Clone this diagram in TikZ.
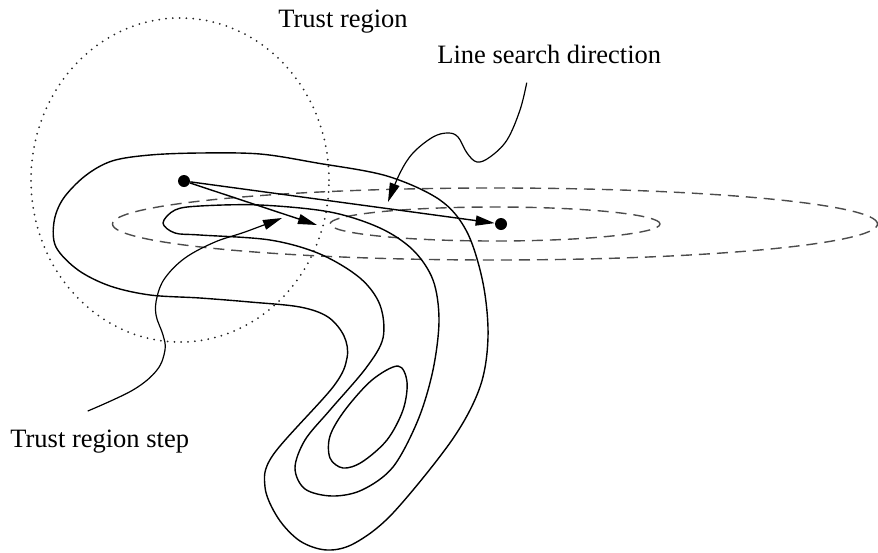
\documentclass[tikz,border=0pt]{standalone}
\usepackage{fontspec}
\setmainfont{Liberation Serif}
\usetikzlibrary{arrows.meta,positioning}

\begin{document}
\begin{tikzpicture}[x=0.5pt,y=-0.5pt,
        contour/.style={line width=0.7pt},
        levelset/.style={line width=0.7pt, black!70, dash pattern=on 5.5pt off 3.5pt},
        trustline/.style={line width=1pt, black!85, line cap=round, dash pattern=on 0pt off 3.4pt},
        dot/.style={circle, fill, inner sep=0pt, minimum size=6pt},
        steparrow/.style={line width=0.7pt, -{Triangle[length=9.5pt,width=5pt]}},
        pointer/.style={line width=0.6pt, -{Triangle[length=9.5pt,width=5pt]}},
        lbl/.style={font=\fontsize{13.25}{16}\selectfont, inner sep=0pt}]
    \useasboundingbox (0,0) rectangle (878,552);

    % quadratic model: dashed level sets
    \draw[levelset] (495,224) ellipse [x radius=191.25pt, y radius=18pt];
    \draw[levelset] (495,224) ellipse [x radius=82.5pt, y radius=8.5pt];

    % trust region
    \draw[trustline] (180,180) ellipse [x radius=74.5pt, y radius=81pt];

    % contours of the objective
    \draw[contour] plot[smooth cycle, tension=0.55] coordinates {
        (112,161) (150,155) (200,153) (260,154) (317,163) (387,176) (440,200)
        (467,232) (483,283) (488,337) (480,387) (452,440) (393,513) (355,543)
        (327,550) (300,541) (278,518) (265,487) (273,455) (333,387) (347,358)
        (344,336) (328,317) (300,307) (250,302) (200,298) (150,295) (110,286)
        (78,270) (56,247) (54,222) (63,199) (85,176)};
    \draw[contour] plot[smooth cycle, tension=0.55] coordinates {
        (163,223) (175,210) (200,206) (260,205) (330,212) (380,228) (413,250)
        (433,280) (439,320) (433,370) (418,420) (393,467) (362,490) (332,496)
        (305,489) (295,468) (305,440) (330,410) (366,368) (383,338) (380,305)
        (360,278) (320,254) (270,240) (200,235) (175,233)};
    \draw[contour] plot[smooth cycle, tension=0.55] coordinates {
        (398,366) (407,382) (403,410) (387,440) (362,462) (343,468) (330,458)
        (330,436) (345,410) (372,380)};

    % iterates
    \node[dot] (start) at (184,181) {};
    \node[dot] (xmin) at (501,224) {};
    \coordinate (stepend) at (317,225);

    \draw[steparrow] (start) -- (stepend);
    \draw[steparrow] (start) -- (xmin);

    % labels
    \node[lbl, anchor=base west] (trlabel) at (278,27) {Trust region};
    \node[lbl, anchor=base west] (lslabel) at (437,63) {Line search direction};
    \node[lbl, anchor=base west] (steplabel) at (10,447) {Trust region step};

    \coordinate (lsfoot) at ([xshift=-11.25pt,yshift=-9.5pt]lslabel.south);
    \coordinate (lstip) at (388,202);
    \coordinate (stepfoot) at ([xshift=-6pt,yshift=9pt]steplabel.north);
    \coordinate (steptip) at (282,218);

    \draw[pointer] plot[smooth, tension=0.6] coordinates {
        (lsfoot) (520,110) (507,140) (490,157) (477,162) (467,153) (458,137)
        (448,133) (433,137) (413,153) (400,173) (lstip)};
    \draw[pointer] plot[smooth, tension=0.6] coordinates {
        (stepfoot) (133,390) (157,370) (165,350) (163,335) (156,315) (157,297)
        (165,278) (185,258) (215,242) (245,232) (steptip)};
\end{tikzpicture}
\end{document}
